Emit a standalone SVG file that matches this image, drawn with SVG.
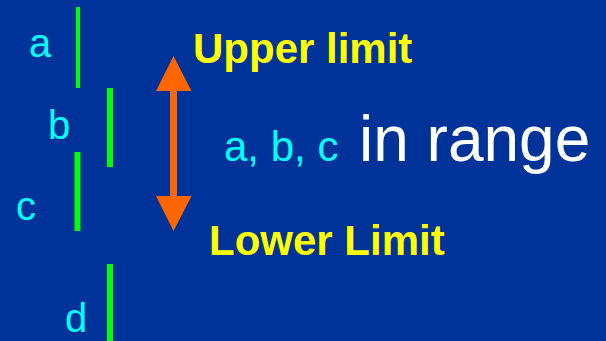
<svg xmlns="http://www.w3.org/2000/svg" width="606" height="341" viewBox="0 0 606 341">
<style>
.bar{stroke:#00FF00;stroke-linecap:butt}
.lbl{font-family:"Liberation Sans",Arial,sans-serif;font-size:40px;fill:#00FFFF}
.lim{font-family:"Liberation Sans",Arial,sans-serif;font-size:42px;font-weight:bold;fill:#FFFF00}
</style>
<rect x="0" y="0" width="606" height="341" fill="#003399"/>
<g id="seg-a"><line class="bar" x1="78" y1="7" x2="78" y2="88" stroke-width="4"/><text class="lbl" x="29" y="57">a</text></g>
<g id="seg-b"><line class="bar" x1="110" y1="88" x2="110" y2="167" stroke-width="6"/><text class="lbl" x="48" y="139">b</text></g>
<g id="seg-c"><line class="bar" x1="77.5" y1="152" x2="77.5" y2="231" stroke-width="6"/><text class="lbl" x="16" y="220">c</text></g>
<g id="seg-d"><line class="bar" x1="110" y1="264" x2="110" y2="341" stroke-width="6"/><text class="lbl" x="65" y="332">d</text></g>
<g id="range-arrow">
<rect x="170" y="90" width="7" height="107" fill="#FF6600"/>
<polygon points="173.5,56 156,91 191.5,91" fill="#FF6600"/>
<polygon points="173.5,231 156,196 191.5,196" fill="#FF6600"/>
</g>
<g id="upper"><text class="lim" x="193" y="63">Upper limit</text></g>
<g id="lower"><text class="lim" x="209" y="255">Lower Limit</text></g>
<g id="caption">
<text x="224" y="161" font-family="Liberation Sans, Arial, sans-serif" font-size="42" fill="#00FFFF">a, b, c</text>
<text x="359" y="161" font-family="Liberation Sans, Arial, sans-serif" font-size="64" fill="#FFFFFF">in range</text>
</g>
</svg>
